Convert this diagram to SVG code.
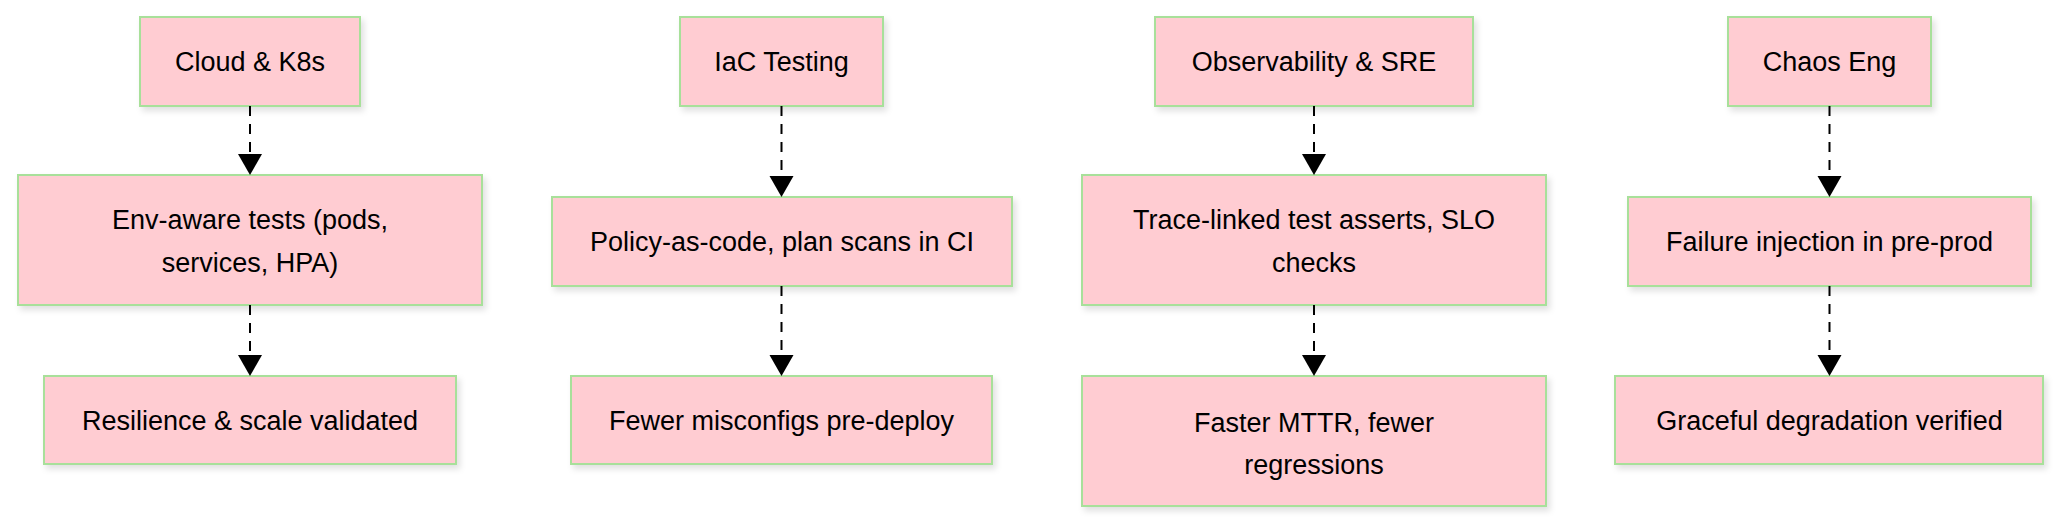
<svg xmlns="http://www.w3.org/2000/svg" width="2055" height="526" viewBox="0 0 2055 526">
<defs>
<filter id="sh" x="-10%" y="-10%" width="130%" height="140%"><feDropShadow dx="3" dy="4" stdDeviation="3" flood-color="#000" flood-opacity="0.12"/></filter>
<marker id="ar" markerWidth="12" markerHeight="10" refX="12" refY="5" orient="auto" markerUnits="userSpaceOnUse" viewBox="0 0 12 10"><path d="M0,0 L12,5 L0,10 z" fill="#000"/></marker>
</defs>
<style>
rect{fill:#ffccd2;stroke:#a8e09a;stroke-width:2;filter:url(#sh)}
text{font-family:"Liberation Sans",Arial,sans-serif;font-size:27px;fill:#000;text-anchor:middle}
.e{stroke:#000;stroke-width:2;stroke-dasharray:10 8;fill:none}
.h{fill:#000}
</style>
<rect width="2055" height="526" fill="#fff" style="fill:#fff;stroke:none;filter:none"/>
<g id="n1"><rect x="140" y="17" width="220" height="89"/><text x="250" y="71">Cloud &amp; K8s</text></g>
<g id="n2"><rect x="18" y="175" width="464" height="130"/><text x="250" y="229">Env-aware tests (pods,</text><text x="250" y="272">services, HPA)</text></g>
<g id="n3"><rect x="44" y="376" width="412" height="88"/><text x="250" y="430">Resilience &amp; scale validated</text></g>
<g id="n4"><rect x="680" y="17" width="203" height="89"/><text x="781.5" y="71">IaC Testing</text></g>
<g id="n5"><rect x="552" y="197" width="460" height="89"/><text x="782" y="251">Policy-as-code, plan scans in CI</text></g>
<g id="n6"><rect x="571" y="376" width="421" height="88"/><text x="781.5" y="430">Fewer misconfigs pre-deploy</text></g>
<g id="n7"><rect x="1155" y="17" width="318" height="89"/><text x="1314" y="71">Observability &amp; SRE</text></g>
<g id="n8"><rect x="1082" y="175" width="464" height="130"/><text x="1314" y="229">Trace-linked test asserts, SLO</text><text x="1314" y="272">checks</text></g>
<g id="n9"><rect x="1082" y="376" width="464" height="130"/><text x="1314" y="432">Faster MTTR, fewer</text><text x="1314" y="474">regressions</text></g>
<g id="n10"><rect x="1728" y="17" width="203" height="89"/><text x="1829.5" y="71">Chaos Eng</text></g>
<g id="n11"><rect x="1628" y="197" width="403" height="89"/><text x="1829.5" y="251">Failure injection in pre-prod</text></g>
<g id="n12"><rect x="1615" y="376" width="428" height="88"/><text x="1829.5" y="430">Graceful degradation verified</text></g>
<g id="edges">
<path class="e" d="M250,106 V155"/><path class="h" d="M238,154 L262,154 L250,175 z"/>
<path class="e" d="M250,305 V355"/><path class="h" d="M238,355 L262,355 L250,376 z"/>
<path class="e" d="M781.5,106 V176"/><path class="h" d="M769.5,176 L793.5,176 L781.5,197 z"/>
<path class="e" d="M781.5,286 V355"/><path class="h" d="M769.5,355 L793.5,355 L781.5,376 z"/>
<path class="e" d="M1314,106 V155"/><path class="h" d="M1302,154 L1326,154 L1314,175 z"/>
<path class="e" d="M1314,305 V355"/><path class="h" d="M1302,355 L1326,355 L1314,376 z"/>
<path class="e" d="M1829.5,106 V176"/><path class="h" d="M1817.5,176 L1841.5,176 L1829.5,197 z"/>
<path class="e" d="M1829.5,286 V355"/><path class="h" d="M1817.5,355 L1841.5,355 L1829.5,376 z"/>
</g>
</svg>
